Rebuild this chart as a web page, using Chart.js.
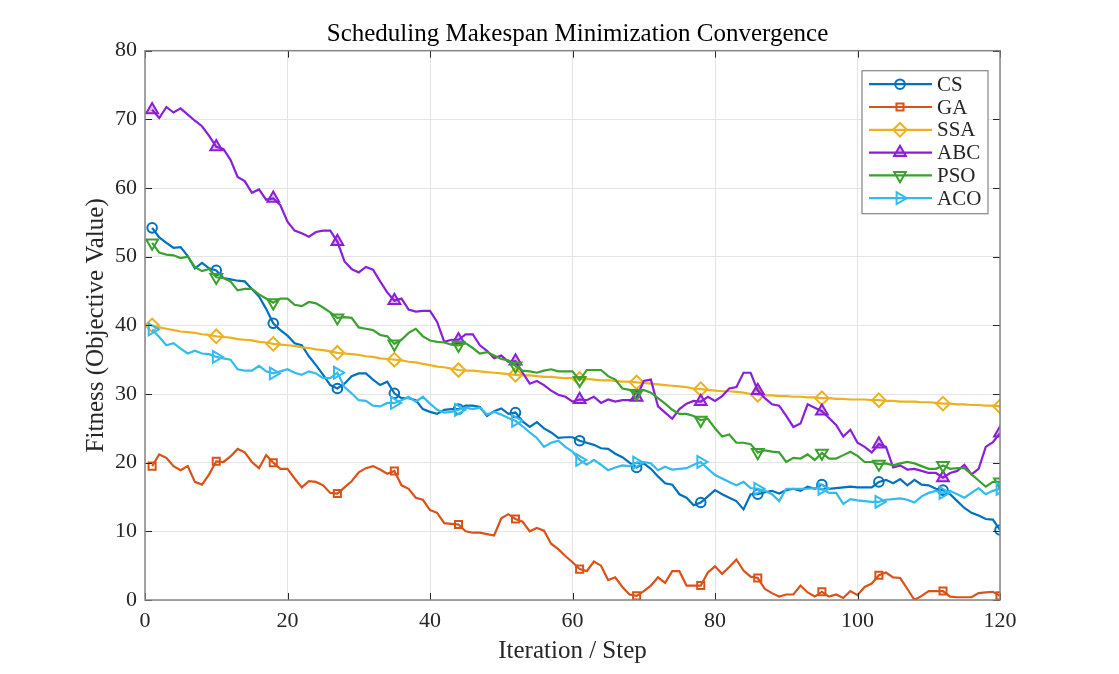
<!DOCTYPE html>
<html>
<head>
<meta charset="utf-8">
<title>Scheduling Makespan Minimization Convergence</title>
<script src="https://cdn.jsdelivr.net/npm/chart.js@4.4.1/dist/chart.umd.min.js"></script>
<style>
  html, body { margin: 0; padding: 0; background: #fff; }
</style>
</head>
<body>
<canvas id="conv" width="1119" height="674"></canvas>
<script>
// iteration index (x axis)
const iters = Array.from({ length: 120 }, (_, i) => i + 1);
// iterations where a marker is shown
const markIdx = [1, 10, 18, 27, 35, 44, 52, 61, 69, 78, 86, 95, 103, 112, 120];

const xTicks = [0, 20, 40, 60, 80, 100, 120];
const yTicks = [0, 10, 20, 30, 40, 50, 60, 70, 80];

const algNames = ['CS', 'GA', 'SSA', 'ABC', 'PSO', 'ACO'];

const cs = [
  54.2, 52.8, 52.0, 51.3, 51.4, 50.1, 48.3, 49.1, 48.3, 48.0,
  46.9, 46.7, 46.5, 46.4, 45.3, 44.2, 42.4, 40.3, 39.3, 38.5,
  37.4, 37.1, 35.5, 34.2, 32.8, 31.3, 30.8, 31.5, 32.6, 33.0,
  33.0, 32.1, 31.3, 31.8, 30.1, 29.4, 29.4, 29.1, 27.8, 27.4,
  27.1, 27.7, 27.8, 27.8, 28.3, 28.3, 28.1, 26.8, 27.5, 27.9,
  27.1, 27.3, 26.0, 25.2, 25.9, 25.0, 24.4, 23.6, 23.7, 23.7,
  23.2, 22.9, 22.6, 22.1, 22.0, 21.3, 20.8, 20.0, 19.3, 19.9,
  19.1, 18.0, 17.0, 16.8, 15.4, 14.9, 13.8, 14.2, 15.1, 16.0,
  15.4, 14.9, 14.4, 13.2, 15.4, 15.4, 15.7, 15.9, 15.5, 16.0,
  16.2, 15.9, 16.5, 16.2, 16.8, 16.2, 16.3, 16.4, 16.5, 16.4,
  16.4, 16.4, 17.2, 17.5, 17.0, 17.6, 16.7, 17.5, 16.8, 16.7,
  16.2, 16.0, 15.4, 14.4, 13.4, 12.7, 12.3, 11.8, 11.7, 10.2
];
const ga = [
  19.5, 21.2, 20.7, 19.5, 18.9, 19.5, 17.2, 16.8, 18.3, 20.2,
  20.1, 20.9, 22.0, 21.5, 20.1, 19.2, 21.1, 20.0, 19.1, 19.1,
  17.7, 16.4, 17.3, 17.2, 16.7, 15.6, 15.5, 16.4, 17.3, 18.6,
  19.2, 19.5, 19.0, 18.4, 18.8, 16.7, 16.2, 14.9, 14.6, 13.1,
  12.7, 11.2, 11.1, 11.0, 10.0, 9.8, 9.8, 9.6, 9.4, 11.9,
  12.5, 11.8, 11.4, 10.0, 10.5, 10.1, 8.2, 7.4, 6.4, 5.5,
  4.5, 4.2, 5.6, 5.0, 2.9, 3.3, 1.9, 0.8, 0.6, 1.3,
  2.1, 3.3, 2.5, 4.2, 4.2, 2.1, 2.1, 2.1, 4.0, 4.9,
  3.8, 4.8, 5.9, 4.3, 3.4, 3.2, 1.6, 1.0, 0.5, 0.8,
  0.8, 2.1, 1.1, 0.5, 1.2, 0.5, 0.8, 0.3, 1.3, 0.7,
  1.9, 2.4, 3.6, 4.0, 3.3, 3.2, 1.6, 0.0, 0.6, 1.3,
  1.3, 1.3, 0.5, 0.4, 0.4, 0.4, 1.0, 1.1, 1.2, 0.6
];
const ssa = [
  40.0, 39.7, 39.5, 39.3, 39.1, 39.0, 38.9, 38.7, 38.6, 38.4,
  38.3, 38.2, 38.0, 37.9, 37.8, 37.6, 37.5, 37.3, 37.2, 37.1,
  37.0, 36.8, 36.7, 36.5, 36.4, 36.2, 36.0, 35.9, 35.8, 35.7,
  35.5, 35.4, 35.2, 35.1, 35.0, 34.9, 34.7, 34.6, 34.4, 34.2,
  34.0, 33.9, 33.7, 33.5, 33.4, 33.4, 33.3, 33.2, 33.1, 33.0,
  32.9, 32.8, 32.7, 32.7, 32.6, 32.5, 32.5, 32.4, 32.3, 32.3,
  32.2, 32.2, 32.1, 32.0, 32.0, 31.9, 31.8, 31.8, 31.7, 31.6,
  31.5, 31.4, 31.3, 31.2, 31.1, 31.0, 30.8, 30.7, 30.6, 30.5,
  30.4, 30.4, 30.3, 30.2, 30.0, 29.9, 29.8, 29.8, 29.7, 29.7,
  29.6, 29.6, 29.5, 29.5, 29.4, 29.4, 29.3, 29.3, 29.2, 29.2,
  29.2, 29.1, 29.1, 29.0, 29.0, 28.9, 28.9, 28.9, 28.8, 28.8,
  28.7, 28.6, 28.6, 28.5, 28.5, 28.4, 28.4, 28.3, 28.3, 28.2
];
const abc = [
  71.4, 70.2, 71.8, 71.0, 71.6, 70.7, 69.8, 69.0, 67.6, 66.0,
  65.7, 64.1, 61.6, 61.0, 59.3, 59.8, 58.3, 58.5, 57.5, 55.1,
  53.8, 53.4, 52.9, 53.6, 53.8, 53.8, 52.2, 49.3, 48.2, 47.7,
  48.5, 48.1, 46.4, 44.8, 43.6, 43.9, 42.3, 42.0, 42.1, 42.1,
  40.5, 37.6, 37.9, 37.9, 38.7, 38.7, 37.1, 36.3, 35.2, 35.6,
  34.7, 34.8, 33.1, 31.5, 31.9, 31.3, 30.5, 29.9, 29.6, 28.9,
  29.2, 29.1, 29.6, 28.7, 29.2, 28.9, 29.1, 29.1, 29.5, 31.9,
  32.1, 28.2, 27.3, 26.4, 27.8, 28.6, 29.0, 28.9, 29.6, 29.0,
  29.7, 30.8, 31.0, 33.1, 33.1, 30.5, 29.4, 28.5, 28.3, 26.8,
  25.2, 25.7, 28.5, 28.0, 27.5, 26.5, 25.5, 23.8, 24.8, 22.9,
  22.3, 21.5, 22.7, 22.3, 19.3, 19.6, 19.0, 19.1, 18.8, 18.5,
  18.5, 17.8, 18.5, 18.8, 19.7, 18.3, 19.1, 22.3, 23.0, 24.3
];
const pso = [
  52.0, 50.6, 50.3, 50.2, 49.8, 50.0, 48.5, 47.9, 48.2, 47.0,
  46.9, 46.4, 45.1, 45.3, 45.3, 44.5, 43.9, 43.3, 43.9, 43.9,
  43.0, 42.8, 43.4, 43.2, 42.6, 41.9, 41.1, 41.2, 41.1, 39.7,
  39.5, 39.3, 38.6, 38.4, 37.3, 37.9, 38.9, 39.5, 38.4, 37.8,
  37.6, 37.5, 37.2, 37.1, 37.4, 36.7, 35.9, 36.1, 35.6, 35.1,
  34.9, 34.1, 33.4, 33.3, 33.1, 33.4, 33.6, 33.3, 33.3, 33.3,
  32.0, 33.5, 33.5, 33.5, 32.6, 32.1, 30.8, 30.6, 30.1, 30.6,
  30.2, 29.4, 28.6, 27.7, 27.1, 27.1, 26.8, 26.2, 26.4, 25.0,
  23.8, 24.1, 22.9, 22.9, 22.7, 21.5, 21.8, 21.6, 21.5, 20.1,
  20.7, 20.6, 21.2, 20.4, 21.4, 20.6, 20.6, 21.1, 21.6, 21.0,
  20.1, 20.1, 19.8, 19.9, 19.6, 19.9, 20.1, 19.9, 19.5, 19.1,
  19.1, 19.6, 19.1, 19.2, 19.2, 18.3, 17.4, 16.5, 17.2, 17.2
];
const aco = [
  39.4, 38.3, 37.1, 37.4, 36.6, 35.9, 36.3, 35.9, 35.8, 35.4,
  35.2, 35.0, 33.6, 33.4, 33.4, 34.1, 33.3, 33.0, 33.3, 33.6,
  33.1, 32.8, 33.3, 33.0, 32.3, 32.3, 33.1, 31.0, 30.1, 29.1,
  29.0, 28.3, 28.2, 28.7, 28.7, 29.1, 29.6, 28.9, 29.6, 28.6,
  27.7, 27.3, 27.4, 27.7, 28.0, 27.8, 28.0, 27.0, 27.4, 27.0,
  26.5, 26.1, 25.3, 24.4, 23.6, 22.3, 22.9, 23.2, 22.3, 21.6,
  20.4, 19.7, 20.4, 19.7, 18.9, 19.3, 19.6, 19.5, 20.0, 20.1,
  19.9, 18.9, 19.4, 19.0, 19.1, 19.2, 19.7, 20.1, 19.1, 18.2,
  17.7, 17.2, 16.7, 17.2, 16.3, 16.2, 15.9, 15.4, 14.4, 16.2,
  16.2, 16.2, 16.2, 16.3, 16.2, 15.6, 15.6, 14.0, 14.7, 14.5,
  14.4, 14.3, 14.3, 14.6, 14.7, 14.8, 14.6, 14.2, 15.1, 15.6,
  15.9, 15.6, 15.9, 15.4, 14.9, 15.6, 16.3, 15.4, 15.9, 16.2
];

const serif = "'Liberation Serif', 'Times New Roman', serif";
const titleText = 'Scheduling Makespan Minimization Convergence';

function series(label, values, color, style, radius, rotation, fill, order) {
  return {
    label,
    data: iters.map((x, i) => ({ x, y: values[i] })),
    borderColor: color,
    borderWidth: 2.2,
    pointStyle: style,
    pointRotation: rotation,
    pointBorderColor: color,
    pointBackgroundColor: fill,
    pointBorderWidth: 2,
    markerRadius: radius,
    pointRadius: ctx => (markIdx.includes(ctx.raw && ctx.raw.x) ? radius : 0),
    pointHoverRadius: 0,
    tension: 0,
    order
  };
}

const datasets = [
  series(algNames[0], cs, '#0072BD', 'circle', 4.8, 0, 'rgba(0,0,0,0)', 6),
  series(algNames[1], ga, '#D95319', 'rect', 5, 0, 'rgba(0,0,0,0)', 5),
  series(algNames[2], ssa, '#EDB120', 'rectRot', 6.8, 0, 'rgba(0,0,0,0)', 4),
  series(algNames[3], abc, '#8B1FD6', 'triangle', 6.8, 0, 'rgba(139,31,214,0.3)', 3),
  series(algNames[4], pso, '#3BA12E', 'triangle', 6.8, 180, 'rgba(0,0,0,0)', 2),
  series(algNames[5], aco, '#33BBEE', 'triangle', 6.8, 90, 'rgba(0,0,0,0)', 1)
];

// title centred over the axes, like MATLAB
const axesTitle = {
  id: 'axesTitle',
  afterDraw(chart) {
    const { ctx, chartArea: a } = chart;
    ctx.save();
    ctx.font = '25px ' + serif;
    ctx.fillStyle = '#000';
    ctx.textAlign = 'center';
    ctx.textBaseline = 'middle';
    ctx.fillText(titleText, (a.left + a.right) / 2 + 5, 34);
    ctx.restore();
  }
};

// MATLAB style box with inward ticks on all four sides
const axesBox = {
  id: 'axesBox',
  afterDatasetsDraw(chart) {
    const { ctx, chartArea: a, scales } = chart;
    ctx.save();
    ctx.strokeStyle = '#262626';
    ctx.lineWidth = 1;
    ctx.beginPath();
    xTicks.forEach(v => {
      const px = Math.round(scales.x.getPixelForValue(v)) + 0.5;
      ctx.moveTo(px, a.bottom); ctx.lineTo(px, a.bottom - 7);
      ctx.moveTo(px, a.top); ctx.lineTo(px, a.top + 7);
    });
    yTicks.forEach(v => {
      const py = Math.round(scales.y.getPixelForValue(v)) + 0.5;
      ctx.moveTo(a.left, py); ctx.lineTo(a.left + 7, py);
      ctx.moveTo(a.right, py); ctx.lineTo(a.right - 7, py);
    });
    ctx.stroke();
    ctx.strokeStyle = '#858585';
    ctx.lineWidth = 1.5;
    ctx.strokeRect(a.left, a.top, a.right - a.left, a.bottom - a.top);
    ctx.restore();
  }
};

// legend with line + marker samples, top right inside the axes
const lineLegend = {
  id: 'lineLegend',
  afterDraw(chart) {
    const { ctx, chartArea: a } = chart;
    const x0 = a.right - 138, y0 = a.top + 20, w = 126, h = 143, rowH = 22.8;
    ctx.save();
    ctx.fillStyle = '#fff';
    ctx.fillRect(x0, y0, w, h);
    ctx.strokeStyle = '#858585';
    ctx.lineWidth = 1.2;
    ctx.strokeRect(x0, y0, w, h);
    ctx.font = '21px ' + serif;
    ctx.textBaseline = 'middle';
    chart.data.datasets.forEach((ds, i) => {
      const y = y0 + 13.5 + i * rowH;
      ctx.strokeStyle = ds.borderColor;
      ctx.lineWidth = ds.borderWidth;
      ctx.beginPath();
      ctx.moveTo(x0 + 7, y);
      ctx.lineTo(x0 + 70, y);
      ctx.stroke();
      ctx.fillStyle = ds.pointBackgroundColor;
      ctx.lineWidth = ds.pointBorderWidth;
      Chart.helpers.drawPoint(ctx, {
        pointStyle: ds.pointStyle,
        radius: ds.markerRadius,
        rotation: ds.pointRotation,
        borderWidth: ds.pointBorderWidth
      }, x0 + 38, y);
      ctx.fillStyle = '#262626';
      ctx.fillText(ds.label, x0 + 75, y + 1);
    });
    ctx.restore();
  }
};

new Chart(document.getElementById('conv'), {
  type: 'line',
  data: { datasets },
  options: {
    responsive: false,
    animation: false,
    events: [],
    layout: { padding: { left: 0, right: 119, top: 50.7, bottom: 0 } },
    plugins: {
      legend: { display: false },
      tooltip: { enabled: false },
      title: { display: false }
    },
    scales: {
      x: {
        type: 'linear',
        min: 0,
        max: 120,
        afterBuildTicks: s => { s.ticks = xTicks.map(v => ({ value: v })); },
        afterFit: s => { s.height = 74; },
        grid: { color: '#e4e4e4', drawTicks: false },
        border: { display: false },
        ticks: { color: '#262626', padding: 8, font: { family: serif, size: 22 } },
        title: {
          display: true,
          text: 'Iteration / Step',
          color: '#262626',
          font: { family: serif, size: 25 },
          padding: { top: 0, bottom: 8 }
        }
      },
      y: {
        min: 0,
        max: 80,
        afterBuildTicks: s => { s.ticks = yTicks.map(v => ({ value: v })); },
        afterFit: s => { s.width = 145; },
        grid: { color: '#e4e4e4', drawTicks: false },
        border: { display: false },
        ticks: { color: '#262626', padding: 8, font: { family: serif, size: 22 } },
        title: {
          display: true,
          text: 'Fitness (Objective Value)',
          color: '#262626',
          font: { family: serif, size: 25 },
          padding: { top: 81, bottom: 0 }
        }
      }
    }
  },
  plugins: [axesBox, lineLegend, axesTitle]
});
</script>
</body>
</html>
